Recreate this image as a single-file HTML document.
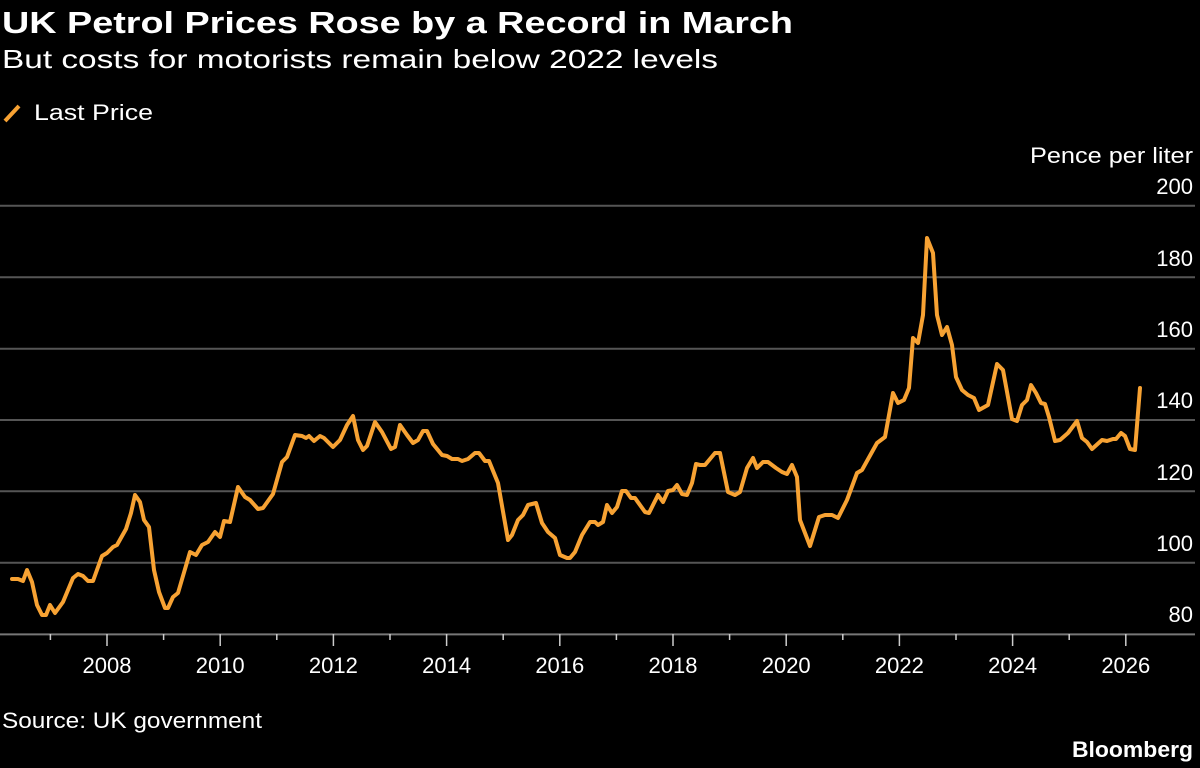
<!DOCTYPE html>
<html><head><meta charset="utf-8"><style>
html,body{margin:0;padding:0;background:#000;}
svg{display:block;font-family:"Liberation Sans","DejaVu Sans",sans-serif;}
</style></head><body>
<svg width="1200" height="768" viewBox="0 0 1200 768">
<rect width="1200" height="768" fill="#000"/>
<text x="2" y="33" fill="#fff" font-size="31" font-weight="bold" textLength="791" lengthAdjust="spacingAndGlyphs">UK Petrol Prices Rose by a Record in March</text>
<text x="2" y="68" fill="#fff" font-size="26" textLength="716" lengthAdjust="spacingAndGlyphs">But costs for motorists remain below 2022 levels</text>
<line x1="5" y1="121" x2="19" y2="106" stroke="#f7a233" stroke-width="4"/>
<text x="34" y="120" fill="#fff" font-size="22" textLength="119" lengthAdjust="spacingAndGlyphs">Last Price</text>
<text x="1193" y="163" fill="#fff" font-size="22" text-anchor="end" textLength="163" lengthAdjust="spacingAndGlyphs">Pence per liter</text>
<g stroke="#555" stroke-width="2">
<line x1="0" y1="205.7" x2="1195" y2="205.7"/>
<line x1="0" y1="277.3" x2="1195" y2="277.3"/>
<line x1="0" y1="348.7" x2="1195" y2="348.7"/>
<line x1="0" y1="420" x2="1195" y2="420"/>
<line x1="0" y1="491.3" x2="1195" y2="491.3"/>
<line x1="0" y1="562.8" x2="1195" y2="562.8"/>
<line x1="0" y1="634.4" x2="1195" y2="634.4" stroke="#777"/>
</g>
<g fill="#fff" font-size="22" text-anchor="end">
<text x="1193" y="194">200</text>
<text x="1193" y="266">180</text>
<text x="1193" y="337">160</text>
<text x="1193" y="408">140</text>
<text x="1193" y="480">120</text>
<text x="1193" y="551">100</text>
<text x="1193" y="622">80</text>
</g>
<g stroke="#ccc" stroke-width="1.5">
<line x1="50.4" y1="634" x2="50.4" y2="640"/>
<line x1="107" y1="634" x2="107" y2="646"/>
<line x1="163.6" y1="634" x2="163.6" y2="640"/>
<line x1="220.2" y1="634" x2="220.2" y2="646"/>
<line x1="276.8" y1="634" x2="276.8" y2="640"/>
<line x1="333.4" y1="634" x2="333.4" y2="646"/>
<line x1="390" y1="634" x2="390" y2="640"/>
<line x1="446.6" y1="634" x2="446.6" y2="646"/>
<line x1="503.2" y1="634" x2="503.2" y2="640"/>
<line x1="559.8" y1="634" x2="559.8" y2="646"/>
<line x1="616.4" y1="634" x2="616.4" y2="640"/>
<line x1="673" y1="634" x2="673" y2="646"/>
<line x1="729.6" y1="634" x2="729.6" y2="640"/>
<line x1="786.2" y1="634" x2="786.2" y2="646"/>
<line x1="842.8" y1="634" x2="842.8" y2="640"/>
<line x1="899.4" y1="634" x2="899.4" y2="646"/>
<line x1="956" y1="634" x2="956" y2="640"/>
<line x1="1012.6" y1="634" x2="1012.6" y2="646"/>
<line x1="1069.2" y1="634" x2="1069.2" y2="640"/>
<line x1="1125.8" y1="634" x2="1125.8" y2="646"/>
</g>
<g fill="#fff" font-size="22" text-anchor="middle">
<text x="107" y="673">2008</text>
<text x="220.2" y="673">2010</text>
<text x="333.4" y="673">2012</text>
<text x="446.6" y="673">2014</text>
<text x="559.8" y="673">2016</text>
<text x="673" y="673">2018</text>
<text x="786.2" y="673">2020</text>
<text x="899.4" y="673">2022</text>
<text x="1012.6" y="673">2024</text>
<text x="1125.8" y="673">2026</text>
</g>
<polyline fill="none" stroke="#f7a233" stroke-width="4" stroke-linejoin="round" stroke-linecap="round" points="
12,579 18,579 23,581 27,570 32,582 37,605 42,615 46,615 50,605 55,613 63,602 73,578 78,574 83,576 88,581 93,581 102,556 107,553 113,547 117,545 126,529 131,513 135,495 140,502 144,520 149,527 154,570 159,592 165,608 168,608 173,597 178,593 190,552 196,555 202,545 208,542 215,532 220,537 224,521 230,522 238,487 245,497 250,500 258,509 263,508 273,494 282,462 287,457 295,435 302,436 306,438 309,436 314,441 320,436 324,438 333,447 340,440 347,425 353,416 358,440 363,450 367,446 375,422 382,432 391,449 395,447 400,425
407,435 413,443 418,440 423,431 427,431 433,444 442,455 447,456 452,459 458,459 462,461 468,459 475,453 479,453 485,461 489,461 498,483 508,540 512,535 518,520 523,515 528,505 536,503 542,523 548,532 555,538 560,555 567,558 570,558 575,552 582,535 590,522 595,522 598,525 603,522 607,505 612,513 617,507 622,491 626,491 631,498 635,498 645,512 649,513 658,495 663,502 668,491 673,490 677,485 682,494 687,495 692,483 696,464 700,465 705,465 715,453 720,453 728,492 735,495 740,492 747,468 753,458 757,468 763,462 768,462 776,468 782,472 787,474 792,465 797,477
800,520 810,546 819,517 825,515 832,515 838,518 847,500 857,473 862,470 877,443 885,437 893,393 898,403 904,400 909,388 913,338 918,343 923,315 927,238 933,253 937,315 942,335 947,327 952,345 956,377 962,390 968,395 974,398 979,410 988,405 997,364 1003,370 1012,419 1017,421 1022,405 1027,400 1031,385 1036,393 1041,403 1045,404 1049,417 1055,441 1060,440 1068,433 1077,421 1082,438 1087,442 1092,449 1102,440 1107,441 1113,439 1116,439 1121,433 1125,436 1130,449 1135,450 1140,388"/>
<text x="2" y="728" fill="#fff" font-size="22" textLength="260" lengthAdjust="spacingAndGlyphs">Source: UK government</text>
<text x="1193" y="757" fill="#fff" font-size="22" font-weight="bold" text-anchor="end" textLength="121" lengthAdjust="spacingAndGlyphs">Bloomberg</text>
</svg>
</body></html>
